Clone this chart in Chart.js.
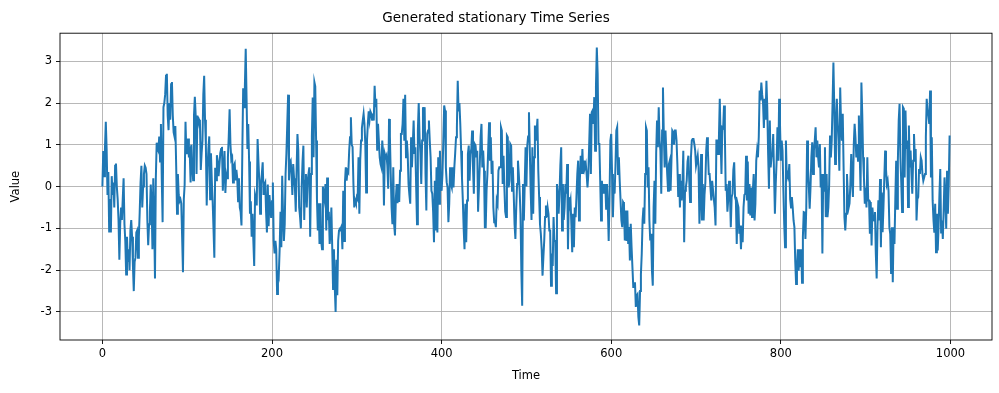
<!DOCTYPE html>
<html>
<head>
<meta charset="utf-8">
<script src="https://cdn.jsdelivr.net/npm/chart.js@4/dist/chart.umd.min.js"></script>
<style>
html,body{margin:0;padding:0;background:#fff;}
#wrap{width:999px;height:393px;}
</style>
</head>
<body>
<div id="wrap"><canvas id="c" width="999" height="393"></canvas></div>
<script>
const chartTitle = 'Generated stationary Time Series';
const xTitle = 'Time';
const yTitle = 'Value';
const timeTicks = [0, 200, 400, 600, 800, 1000];
const valueTicks = [-3, -2, -1, 0, 1, 2, 3];
const values = [
0.0, 0.85, 0.25, 0.9, 1.55, 0.9, -0.2, 0.35, -1.1, -0.3,
-1.1, 0.25, -0.2, 0.1, -0.5, 0.5, 0.55, 0.0, -0.3, -0.8,
-1.75, -0.9, -0.5, -0.8, -0.3, 0.2, -0.9, -1.3, -2.1, -1.2,
-1.8, -1.5, -2.0, -1.05, -0.8, -1.2, -1.9, -2.5, -1.8, -1.7,
-1.1, -1.05, -1.7, -1.2, -0.6, 0.1, 0.5, -0.5, 0.0, 0.3,
0.5, 0.45, 0.3, -0.8, -1.4, -0.9, -0.6, 0.05, -0.4, -1.5,
0.2, -0.8, -2.2, 0.2, 1.05, 0.9, 0.85, 1.2, 0.6, 1.5,
0.2, -0.85, 1.9, 2.0, 2.2, 2.65, 2.7, 1.7, 1.35, 2.0,
1.6, 2.45, 2.5, 1.7, 1.3, 1.2, 1.45, 0.5, -0.65, 0.3,
-0.2, -0.35, -0.3, -0.4, -1.2, -2.05, -0.3, 0.05, 1.55, 0.8,
0.8, 1.15, 0.7, 0.8, 0.1, 1.0, 0.5, 0.15, 1.7, 2.15,
1.7, 0.3, 1.7, 1.5, 1.6, 1.55, 0.4, 0.8, 1.1, 2.2,
2.65, 1.6, 1.0, -0.45, 0.45, 0.9, 1.2, -0.3, 0.8, 0.15,
-0.35, -1.0, -1.7, 0.45, 0.15, 0.75, 0.6, 0.25, 0.5, 0.8,
0.9, 0.95, -0.1, 0.4, 0.85, -0.15, 0.3, 0.2, 0.7, 1.2,
1.85, 1.0, 0.65, 0.7, 0.1, 0.5, 0.55, 0.15, 0.4, 0.2,
-0.35, 0.2, -0.5, -0.6, -0.93, 0.85, 2.35, 1.9, 2.4, 3.3,
2.1, 0.9, 1.5, 0.6, -0.65, -0.35, -1.2, -0.65, -1.3, -1.9,
-0.2, -0.3, -0.45, 1.14, 0.6, 0.14, -0.65, 0.05, 0.3, 0.58,
-0.2, 0.05, 0.1, -0.6, -1.1, 0.05, -0.95, -0.2, -0.5, -0.75,
-0.35, 0.1, -1.3, -1.6, -1.3, -1.5, -2.57, -2.0, -2.1, -1.5,
-0.6, -1.45, 0.26, -0.65, -1.3, -0.9, 0.3, 0.8, 1.5, 2.2,
0.15, 0.58, 0.62, 0.3, -0.2, 0.54, 0.2, -0.02, -0.6, 0.4,
1.26, 0.86, -0.5, -0.7, -1.0, 0.0, 0.6, 0.98, -0.8, 0.14,
0.3, -0.5, 0.14, 0.3, 0.46, -1.2, 0.3, 1.2, 2.13, 0.7,
2.5, 2.4, 1.1, -0.3, -1.05, -0.4, -1.37, -0.4, -1.3, -1.5,
0.0, -0.2, -0.33, 0.06, -1.05, 0.22, -0.8, -0.6, -1.37, -1.1,
-0.5, -1.45, -2.45, -1.5, -2.4, -3.0, -1.75, -2.6, -1.3, -1.05,
-1.0, -1.0, -0.95, -1.5, -0.1, -1.3, 0.1, 0.46, 0.14, 0.38,
0.34, 0.86, 1.18, 1.66, 1.0, 0.95, 0.06, -0.5, -0.33, -0.4,
-0.25, -0.3, 0.7, -0.65, 0.62, 1.1, 1.4, 1.58, 1.74, 1.5,
1.02, -0.14, 1.1, 1.5, 1.8, 1.6, 1.8, 1.75, 1.6, 1.75,
1.58, 2.41, 1.9, 2.1, 0.86, 1.5, 1.5, 0.7, 0.54, 0.46,
1.1, 0.78, -0.45, 0.78, 0.7, 0.75, 0.5, -0.05, 1.62, 1.2,
0.3, -0.5, -0.9, 0.46, -0.9, -1.17, -0.3, 0.06, -0.4, 0.06,
-0.37, 0.38, 1.26, 1.26, 1.5, 2.1, 1.1, 2.2, 0.7, 1.1,
0.78, 0.06, -0.2, -0.41, 1.18, 0.46, 1.0, 1.58, 0.78, 0.94,
-0.02, -0.9, 1.34, 2.0, 1.18, 0.8, 0.06, 1.1, 1.9, 1.58,
1.9, 0.3, -0.57, 1.26, 1.34, 1.58, 1.1, 0.7, -0.1, -0.17,
-0.6, -1.33, 0.14, -1.05, 0.46, -1.1, 0.7, -0.41, 0.86, 0.06,
-0.1, 0.3, 1.1, 1.94, 1.82, 0.46, 0.1, -0.02, -0.85, -0.4,
0.46, 0.06, -0.02, 0.46, -0.02, 0.46, 0.8, 1.18, 1.4, 2.53,
1.8, 2.0, 1.5, 0.86, 0.22, -0.33, -1.0, -1.5, -0.41, -1.33,
-0.33, 0.78, 0.98, 0.14, 0.78, 0.9, 1.34, 0.46, -0.17, 1.02,
0.98, 0.7, 0.86, -0.6, -0.6, 0.54, 1.2, 1.5, 0.46, 0.86,
0.38, -0.97, -0.97, -0.1, 0.3, 0.94, 1.54, 0.62, 1.18, 0.3,
0.62, -0.5, -0.85, -0.85, -0.97, -0.33, -0.41, 0.38, 0.46, 0.46,
1.42, 1.34, 0.06, 0.74, -0.02, -0.6, -0.73, 1.22, 1.18, -0.02,
0.14, 1.02, 0.98, -0.1, 0.46, -0.17, -0.9, -1.25, -0.5, 0.06,
0.62, 0.3, -0.1, -0.65, -2.0, -2.85, 0.06, -0.81, 0.06, 0.94,
0.0, 0.98, 1.2, 1.78, 0.86, -0.1, -0.8, 0.94, -0.65, 0.7,
1.46, 1.1, 1.3, 1.62, 0.38, -0.25, -0.9, -1.13, -1.5, -2.13,
-1.69, -1.29, -0.73, -0.45, -0.73, -0.5, -0.65, -1.05, -1.05, -2.37,
-1.6, -1.9, -0.73, -1.3, -1.3, -2.55, 0.06, -0.17, -0.65, -0.17,
0.5, 0.94, -1.05, 0.06, -0.8, -0.5, 0.06, -0.17, 0.54, -1.5,
-0.25, -0.45, -0.33, -0.9, -1.57, -0.65, -1.45, -0.5, -0.73, -0.25,
0.3, 0.62, -0.81, 0.14, 0.74, 0.3, 0.9, 0.3, 0.62, 0.46,
0.54, 0.3, -0.02, 0.3, 1.0, 1.74, 0.3, 1.78, 1.82, 1.5,
2.14, 0.86, 2.4, 3.33, 2.7, 1.02, 1.02, 0.14, -0.81, 0.14,
-0.17, 0.06, -0.17, 0.06, -0.53, 0.06, -0.5, -1.3, -0.25, 1.1,
1.26, 0.3, -0.73, 0.06, -0.17, 0.5, 1.34, 1.42, 0.3, 0.7,
0.14, -0.33, -0.81, -0.97, -0.37, -0.41, -1.29, -0.57, -1.3, -0.57,
-1.37, -0.97, -1.77, -0.89, -1.45, -1.93, -2.4, -2.4, -2.29, -2.88,
-2.6, -2.57, -3.12, -3.32, -2.5, -2.1, -1.6, -0.8, -0.5, -0.89,
0.3, 1.42, 1.34, -0.02, 0.46, -0.81, -1.29, -1.13, -2.0, -2.37,
-0.5, 0.14, -0.89, 0.8, 1.58, 0.94, 1.9, 1.1, 0.86, -0.17,
1.34, 2.37, 1.26, 0.46, 1.34, 0.78, 0.3, -0.1, 0.54, 0.62,
-0.1, 0.62, 1.34, 1.3, 1.0, 1.34, 1.34, 1.1, 0.54, -0.25,
0.3, -0.5, 0.14, -0.33, 0.1, 0.86, -1.33, -0.1, -0.02, 0.14,
0.6, 0.74, 0.14, -0.37, 0.7, 1.1, 1.14, 1.14, 1.02, 0.86,
0.5, 0.5, 0.74, 0.46, -0.89, -0.17, 0.78, -0.81, 0.06, -0.81,
-0.2, 0.1, 0.86, 1.18, 0.86, 0.3, 0.3, -0.02, -0.33, 0.14,
0.14, -0.3, -0.5, -0.93, 1.1, 1.1, 0.78, 1.18, 2.1, 1.1,
0.3, 1.42, 1.4, 1.94, 1.26, -0.1, 0.06, -0.6, -0.3, 0.14,
-0.17, -0.97, -0.25, -0.17, 0.4, 0.58, -0.25, -0.33, -1.37, -0.41,
-0.5, -1.13, -0.93, -1.5, -0.97, -1.33, -0.5, -0.2, -0.17, 0.74,
-0.33, 0.6, -0.65, 0.06, -0.69, -0.02, -0.73, -0.1, 0.3, -0.81,
-0.41, 0.62, 0.86, 0.7, 1.2, 2.3, 2.06, 2.49, 2.2, 2.0,
1.4, 2.1, 1.6, 2.53, 1.9, 0.8, -0.05, 1.58, 0.46, 0.7,
0.78, 1.26, 0.3, -0.65, 0.06, 0.6, 1.42, 0.62, 2.1, 1.5,
0.62, 1.1, 0.86, -0.1, -0.9, -1.45, 1.1, 0.2, 0.3, 0.22,
0.54, -0.3, -0.5, -0.25, -0.5, -0.81, -0.97, -1.8, -2.33, -1.93,
-1.5, -2.01, -1.5, -1.93, -1.5, -2.3, -1.2, -0.61, -0.62, -1.25,
-0.5, 1.1, 0.46, 0.0, -0.53, -0.02, 0.7, 1.06, 0.3, 0.86,
1.1, 1.42, 0.7, 1.1, 0.7, 0.46, 1.02, -0.02, 0.3, -1.6,
0.3, -0.1, 0.94, -0.73, 0.3, -0.73, -0.5, 0.06, 1.22, 0.7,
1.1, 2.0, 2.97, 1.9, 0.54, 1.5, 2.1, 1.5, 1.1, 0.38,
2.37, 1.5, 1.1, 1.74, 0.46, -0.73, -1.05, -0.65, 0.3, -0.2,
-0.5, -0.4, 0.06, 0.78, 0.14, -0.25, 1.0, 1.5, 1.18, 0.7,
1.02, 0.62, 1.7, 0.8, -0.1, 2.49, 1.74, 0.7, 0.22, -0.41,
-0.02, -0.5, 0.7, -0.33, -0.33, -1.13, -0.37, -1.41, -0.5, -0.8,
-0.81, -0.61, -1.6, -2.2, -0.97, -0.33, -0.81, 0.18, -1.45, -0.14,
-1.09, -0.5, 0.18, 0.86, 0.42, 0.06, 0.14, -0.1, -0.97, -1.13,
-2.07, -0.97, -2.29, -0.97, -1.37, -0.3, 0.62, -0.53, 0.62, 1.58,
1.98, 0.7, 0.1, -0.61, 1.9, 1.86, 0.22, 1.82, 0.9, 1.1,
-0.49, 1.46, 0.46, 0.86, 0.3, -0.17, 0.62, 1.26, 0.7, 0.9,
-0.81, -0.3, -0.25, 0.42, 0.3, 0.7, 0.62, 0.3, 0.14, 0.22,
0.3, 1.18, 2.1, 1.82, 1.7, 1.5, 2.3, 0.22, 1.18, -0.33,
-0.8, -1.1, -0.41, -1.57, -0.65, -1.53, -0.97, -0.2, 0.42, -1.1,
-0.81, -1.25, -0.57, 0.22, -0.3, -1.01, 0.38, -0.65, 0.06, 1.22
];

const points = values.map((v, i) => ({x: i, y: v}));
const FONT = "'DejaVu Sans', 'Liberation Sans', sans-serif";

const framePlugin = {
  id: 'frame',
  afterDraw(chart) {
    const {ctx, chartArea: a} = chart;
    ctx.save();
    ctx.strokeStyle = '#000';
    ctx.lineWidth = 0.9;
    ctx.strokeRect(a.left, a.top, a.right - a.left, a.bottom - a.top);
    ctx.restore();
  }
};

new Chart(document.getElementById('c'), {
  type: 'line',
  data: {
    datasets: [{
      data: points,
      borderColor: '#1f77b4',
      borderWidth: 2,
      pointRadius: 0,
      tension: 0,
      fill: false
    }]
  },
  options: {
    responsive: false,
    animation: false,
    parsing: true,
    layout: {padding: {left: 0, right: 7, top: 0, bottom: 0}},
    plugins: {
      legend: {display: false},
      tooltip: {enabled: false},
      title: {
        display: true,
        text: chartTitle,
        color: '#000',
        font: {family: FONT, size: 13.5, weight: 'normal'},
        padding: {top: 10, bottom: 7}
      }
    },
    scales: {
      x: {
        type: 'linear',
        min: -50,
        max: 1049,
        afterFit(s) { s.height = 53; },
        afterBuildTicks(s) { s.ticks = timeTicks.map(v => ({value: v})); },
        ticks: {
          color: '#000',
          font: {family: FONT, size: 11.5},
          padding: 3,
          maxRotation: 0,
          callback: v => String(v)
        },
        grid: {color: '#b0b0b0', lineWidth: 0.9, tickColor: '#000', tickLength: 4, tickWidth: 0.9},
        border: {display: false},
        title: {display: true, text: xTitle, color: '#000', font: {family: FONT, size: 11.5}, padding: {top: 0, bottom: 10}}
      },
      y: {
        type: 'linear',
        min: -3.67,
        max: 3.67,
        afterFit(s) { s.width = 60; },
        afterBuildTicks(s) { s.ticks = valueTicks.map(v => ({value: v})); },
        ticks: {
          color: '#000',
          font: {family: FONT, size: 11.5},
          padding: 4,
          callback: v => String(v)
        },
        grid: {color: '#b0b0b0', lineWidth: 0.9, tickColor: '#000', tickLength: 4, tickWidth: 0.9},
        border: {display: false},
        title: {display: true, text: yTitle, color: '#000', font: {family: FONT, size: 11.5}, padding: {top: 9, bottom: 0}}
      }
    }
  },
  plugins: [framePlugin]
});
</script>
</body>
</html>
